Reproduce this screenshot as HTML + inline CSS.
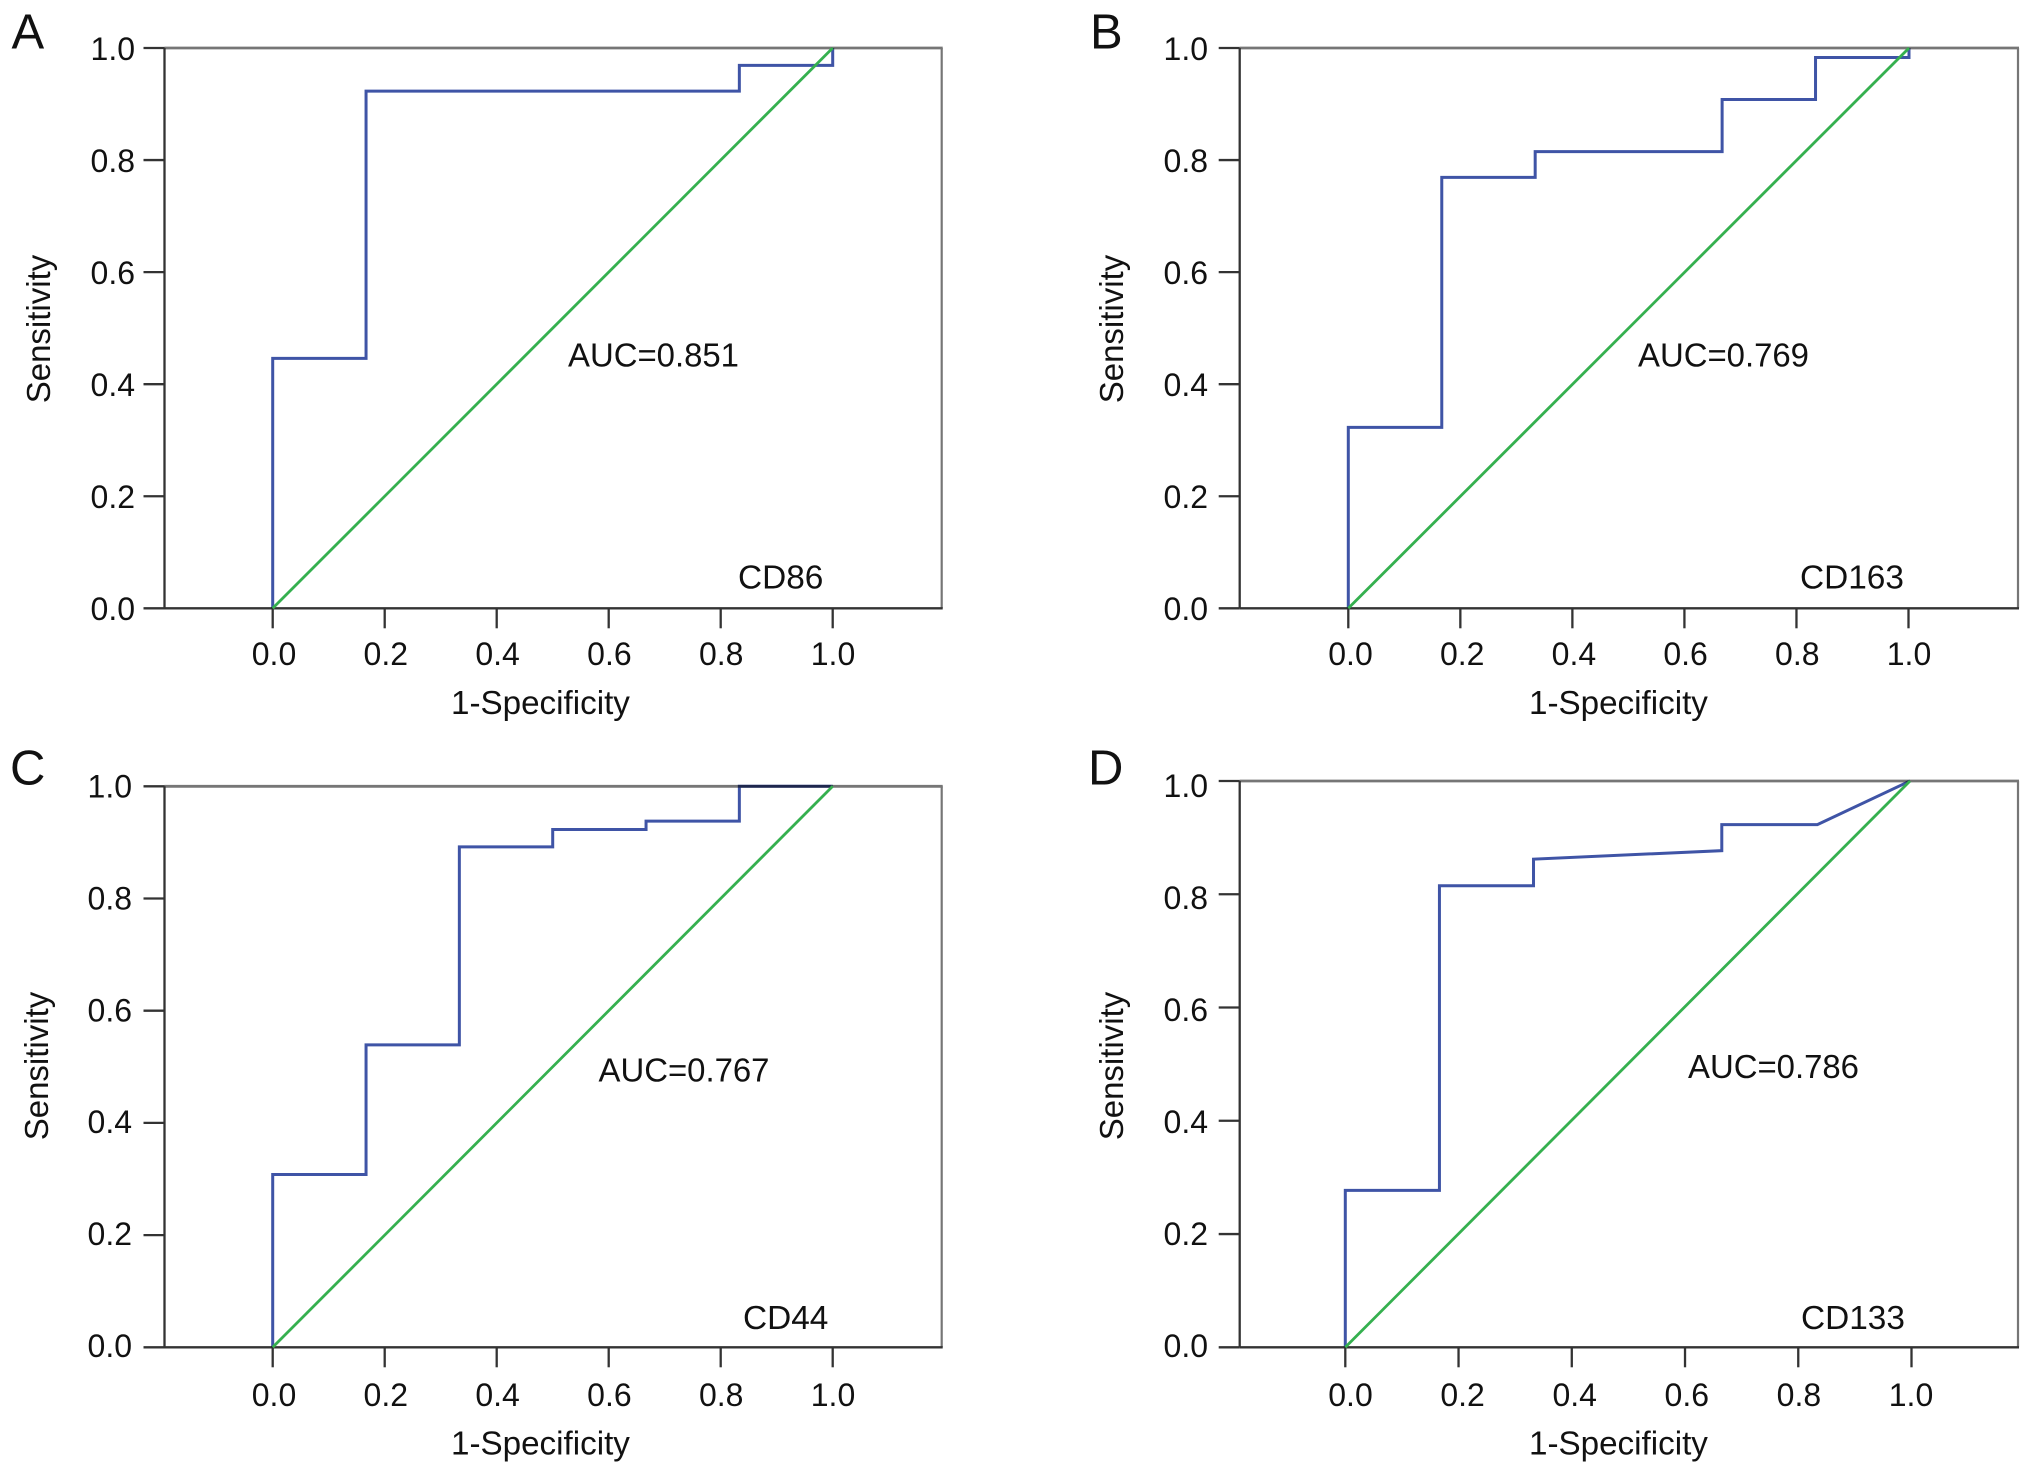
<!DOCTYPE html>
<html lang="en">
<head>
<meta charset="utf-8">
<title>ROC curves for CD86, CD163, CD44 and CD133</title>
<style>
html,body{margin:0;padding:0;background:#fff;}
svg{display:block;}
text{font-family:"Liberation Sans",Arial,Helvetica,sans-serif;fill:#111;}
</style>
</head>
<body>
<svg id="figure" xmlns="http://www.w3.org/2000/svg" width="2032" height="1475" viewBox="0 0 2032 1475"></svg>
<script>
// Chart data
const axisTicks = [0, 0.2, 0.4, 0.6, 0.8, 1];
const axisTickLabels = ['0.0', '0.2', '0.4', '0.6', '0.8', '1.0'];
const referenceFpr = [0, 1];
const referenceTpr = [0, 1];

const cd86Fpr = [0, 0, 0.1667, 0.1667, 0.8333, 0.8333, 1, 1];
const cd86Tpr = [0, 0.446, 0.446, 0.923, 0.923, 0.969, 0.969, 1];

const cd163Fpr = [0, 0, 0.1667, 0.1667, 0.3333, 0.3333, 0.6667, 0.6667, 0.8333, 0.8333, 1, 1];
const cd163Tpr = [0, 0.323, 0.323, 0.769, 0.769, 0.815, 0.815, 0.908, 0.908, 0.983, 0.983, 1];

const cd44Fpr = [0, 0, 0.1667, 0.1667, 0.3333, 0.3333, 0.5, 0.5, 0.6667, 0.6667, 0.8333, 0.8333, 1];
const cd44Tpr = [0, 0.308, 0.308, 0.539, 0.539, 0.892, 0.892, 0.923, 0.923, 0.938, 0.938, 1, 1];

const cd133Fpr = [0, 0, 0.1667, 0.1667, 0.3333, 0.3333, 0.6667, 0.6667, 0.836, 1];
const cd133Tpr = [0, 0.277, 0.277, 0.815, 0.815, 0.862, 0.877, 0.923, 0.923, 1];

// Panel layout
const panelA = {
  id: 'a', letter: 'A', marker: 'CD86', auc: 'AUC=0.851', fpr: cd86Fpr, tpr: cd86Tpr,
  left: 164.5, right: 941.7, top: 48, bottom: 608.3,
  dataX0: 272.7, dataX1: 832.7, tickX0: 272.7, tickX1: 832.7, labelX0: 274, labelX1: 833,
  labelY0: 620, labelY1: 60, yLabelRight: 135, xLabelBase: 665,
  letterX: 11.5, letterY: 48.5,
  xTitleX: 451, xTitleY: 714, yTitleX: 50, yTitleY: 329,
  aucX: 568, aucY: 366.7, markerX: 738, markerY: 588.5
};
const panelB = {
  id: 'b', letter: 'B', marker: 'CD163', auc: 'AUC=0.769', fpr: cd163Fpr, tpr: cd163Tpr,
  left: 1239.7, right: 2018, top: 48, bottom: 608.3,
  dataX0: 1348.3, dataX1: 1909, tickX0: 1348.3, tickX1: 1908.5, labelX0: 1350.5, labelX1: 1909,
  labelY0: 620, labelY1: 60, yLabelRight: 1208, xLabelBase: 665,
  letterX: 1090, letterY: 48.5,
  xTitleX: 1529, xTitleY: 714, yTitleX: 1123, yTitleY: 329,
  aucX: 1638, aucY: 366.7, markerX: 1800, markerY: 588.5
};
const panelC = {
  id: 'c', letter: 'C', marker: 'CD44', auc: 'AUC=0.767', fpr: cd44Fpr, tpr: cd44Tpr,
  left: 164.5, right: 941.7, top: 786.3, bottom: 1347.3,
  dataX0: 272.7, dataX1: 832.7, tickX0: 272.7, tickX1: 832.7, labelX0: 274, labelX1: 833,
  labelY0: 1357, labelY1: 797.5, yLabelRight: 132, xLabelBase: 1406,
  letterX: 10, letterY: 784.5,
  xTitleX: 451, xTitleY: 1454.5, yTitleX: 48, yTitleY: 1066,
  aucX: 598.5, aucY: 1081.7, markerX: 743, markerY: 1329
};
const panelD = {
  id: 'd', letter: 'D', marker: 'CD133', auc: 'AUC=0.786', fpr: cd133Fpr, tpr: cd133Tpr,
  left: 1239.7, right: 2018, top: 781, bottom: 1347.3,
  dataX0: 1345.3, dataX1: 1910, tickX0: 1345.3, tickX1: 1911.5, labelX0: 1350.5, labelX1: 1911,
  labelY0: 1357, labelY1: 797, yLabelRight: 1208, xLabelBase: 1406,
  letterX: 1088, letterY: 784.5,
  xTitleX: 1529, xTitleY: 1454.5, yTitleX: 1123, yTitleY: 1066,
  aucX: 1688, aucY: 1078, markerX: 1801, markerY: 1329
};
const panels = [panelA, panelB, panelC, panelD];

const SVGNS = 'http://www.w3.org/2000/svg';
const root = document.getElementById('figure');
const BLUE = '#3f54a6';
const GREEN = '#35b04f';
const DARK = '#333333';
const GREY = '#767676';

function make(parent, tag, attrs, content) {
  const node = document.createElementNS(SVGNS, tag);
  for (const key in attrs) node.setAttribute(key, attrs[key]);
  if (content !== undefined) node.textContent = content;
  parent.appendChild(node);
  return node;
}
function lerp(a, b, t) { return a + (b - a) * t; }

panels.forEach(function (p) {
  const xData = function (v) { return lerp(p.dataX0, p.dataX1, v); };
  const yData = function (v) { return lerp(p.bottom, p.top, v); };
  const xTick = function (v) { return lerp(p.tickX0, p.tickX1, v); };
  const xLabel = function (v) { return lerp(p.labelX0, p.labelX1, v); };
  const yLabel = function (v) { return lerp(p.labelY0, p.labelY1, v); };

  const group = make(root, 'g', {});
  
  

  const letter = make(group, 'text', { x: p.letterX, y: p.letterY, 'font-size': 49 }, p.letter);
  
  

  const topEdge = make(group, 'line', { x1: p.left, x2: p.right + 1, y1: p.top, y2: p.top, stroke: GREY, 'stroke-width': 2.8 });
  
  

  const rightEdge = make(group, 'line', { x1: p.right, x2: p.right, y1: p.top, y2: p.bottom, stroke: GREY, 'stroke-width': 2.2 });
  
  

  const bottomEdge = make(group, 'line', { x1: p.left, x2: p.right + 1, y1: p.bottom, y2: p.bottom, stroke: DARK, 'stroke-width': 2.3 });
  
  

  const leftEdge = make(group, 'line', { x1: p.left, x2: p.left, y1: p.top, y2: p.bottom, stroke: DARK, 'stroke-width': 2.3 });
  
  

  axisTicks.forEach(function (v, i) {
    const yt = make(group, 'line', { x1: p.left - 21, x2: p.left, y1: yData(v), y2: yData(v), stroke: DARK, 'stroke-width': 2.3 });
    
    

    const yl = make(group, 'text', { x: p.yLabelRight, y: yLabel(v), 'font-size': 32, 'text-anchor': 'end' }, axisTickLabels[i]);
    
    

    const xt = make(group, 'line', { x1: xTick(v), x2: xTick(v), y1: p.bottom, y2: p.bottom + 20, stroke: DARK, 'stroke-width': 2.3 });
    
    

    const xl = make(group, 'text', { x: xLabel(v), y: p.xLabelBase, 'font-size': 32, 'text-anchor': 'middle' }, axisTickLabels[i]);
    
    
  });

  const xTitle = make(group, 'text', { x: p.xTitleX, y: p.xTitleY, 'font-size': 33.2 }, '1-Specificity');
  
  

  const yTitle = make(group, 'text', {
    x: p.yTitleX, y: p.yTitleY, 'font-size': 33, 'text-anchor': 'middle',
    transform: 'rotate(-90 ' + p.yTitleX + ' ' + p.yTitleY + ')'
  }, 'Sensitivity');
  
  

  const rocPoints = p.fpr.map(function (f, i) { return xData(f).toFixed(2) + ',' + yData(p.tpr[i]).toFixed(2); }).join(' ');
  const roc = make(group, 'polyline', { points: rocPoints, fill: 'none', stroke: BLUE, 'stroke-width': 3, 'stroke-linejoin': 'miter', style: 'mix-blend-mode:multiply' });
  
  

  const refPoints = referenceFpr.map(function (f, i) { return xData(f).toFixed(2) + ',' + yData(referenceTpr[i]).toFixed(2); }).join(' ');
  const ref = make(group, 'polyline', { points: refPoints, fill: 'none', stroke: GREEN, 'stroke-width': 2.8 });
  
  

  const auc = make(group, 'text', { x: p.aucX, y: p.aucY, 'font-size': 32.9 }, p.auc);
  
  

  const marker = make(group, 'text', { x: p.markerX, y: p.markerY, 'font-size': 33.4 }, p.marker);
  
  
});
</script>
</body>
</html>
